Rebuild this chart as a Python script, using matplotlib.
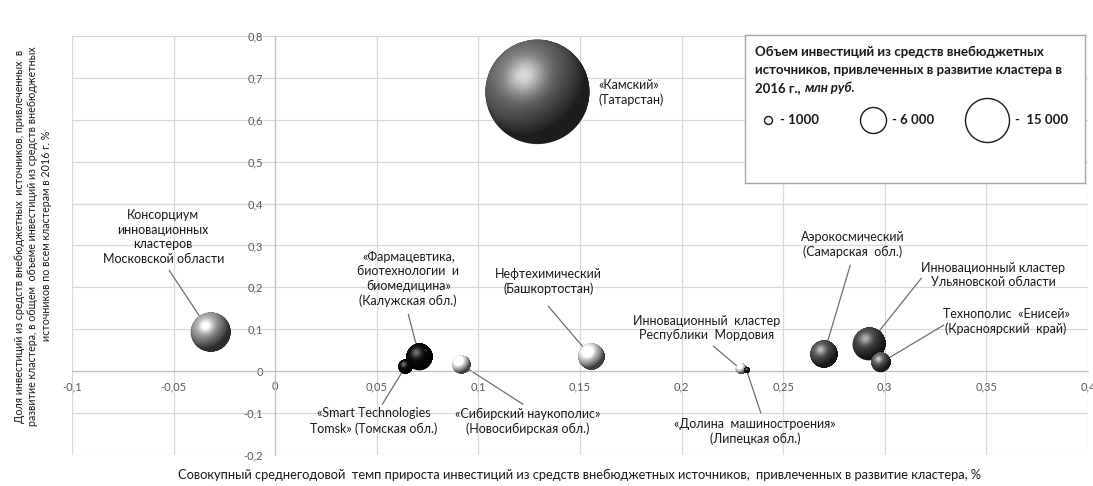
import numpy as np
import matplotlib
matplotlib.use("Agg")
import matplotlib.pyplot as plt
from matplotlib.offsetbox import OffsetImage, AnnotationBbox
from matplotlib.ticker import FuncFormatter

plt.rcParams['font.family'] = ['Lato', 'DejaVu Sans']

# ---------------- data ----------------
clusters = ["«Камский»\n(Татарстан)",
            "Консорциум\nинновационных\nкластеров\nМосковской области",
            "«Фармацевтика,\nбиотехнологии  и\nбиомедицина»\n(Калужская обл.)",
            "«Smart Technologies\nTomsk» (Томская обл.)",
            "«Сибирский наукополис»\n(Новосибирская обл.)",
            "Нефтехимический\n(Башкортостан)",
            "Инновационный  кластер\nРеспублики  Мордовия",
            "«Долина  машиностроения»\n(Липецкая обл.)",
            "Аэрокосмический\n(Самарская  обл.)",
            "Инновационный кластер\nУльяновской области",
            "Технополис  «Енисей»\n(Красноярский  край)"]
growth = [0.129, -0.032, 0.071, 0.064, 0.0915, 0.1555, 0.229, 0.232, 0.270, 0.292, 0.298]
share = [0.666, 0.093, 0.033, 0.010, 0.016, 0.035, 0.005, 0.002, 0.041, 0.064, 0.020]
volume = [76700, 10800, 4800, 1390, 2300, 4800, 710, 180, 5300, 7260, 2560]

legend_values = [1000, 6000, 15000]
legend_labels = ["- 1000", "- 6 000", "-  15 000"]

x_ticks = [-0.1, -0.05, 0, 0.05, 0.1, 0.15, 0.2, 0.25, 0.3, 0.35, 0.4]
y_ticks = [-0.2, -0.1, 0, 0.1, 0.2, 0.3, 0.4, 0.5, 0.6, 0.7, 0.8]

# ---------------- styles / layout ----------------
shades = [0.42, 0.62, 0.04, 0.04, 0.95, 0.88, 0.97, 0.08, 0.32, 0.28, 0.36]
label_pos = [(0.159, 0.666), (-0.0551, 0.320), (0.0655, 0.220), (0.0487, -0.119),
             (0.1245, -0.119), (0.1344, 0.215), (0.2121, 0.103), (0.2362, -0.143),
             (0.2844, 0.303), (0.3533, 0.229), (0.3597, 0.119)]
label_ha = ['left'] + ['center'] * 10
line_start = [None, (-0.0522, 0.241), (0.0655, 0.136), (0.0527, -0.079),
              (0.122, -0.079), (0.1344, 0.155), (0.2156, 0.060), (0.239, -0.100),
              (0.283, 0.253), (0.318, 0.222), (0.329, 0.110)]
legend_marker_px = [4, 13, 22]

DPI = 100
K_PX = 23 / np.sqrt(15000)   # bubble radius in px per sqrt(mln rub)


def sphere(gray, n=240):
    lin = np.linspace(-1, 1, n)
    X, Y = np.meshgrid(lin, -lin)
    R = np.sqrt(X ** 2 + Y ** 2)
    Z = np.sqrt(np.clip(1 - R ** 2, 0, 1))
    L = np.array([-0.45, 0.55, 0.70]); L /= np.linalg.norm(L)
    diff = np.clip(X * L[0] + Y * L[1] + Z * L[2], 0, 1)
    H = L + np.array([0, 0, 1.0]); H /= np.linalg.norm(H)
    spec = np.clip(X * H[0] + Y * H[1] + Z * H[2], 0, 1) ** 14
    v = gray * (0.28 + 0.85 * diff) + 0.40 * spec
    v = np.clip(v, 0, 1)
    alpha = np.clip((1 - R) * n / 2, 0, 1)
    return np.dstack([v, v, v, alpha])


fig = plt.figure(figsize=(10.93, 4.86), dpi=DPI)
ax = fig.add_axes([72 / 1093, 1 - 455 / 486, (1088 - 72) / 1093, (455 - 36) / 486])
ax.set_xlim(-0.1, 0.4)
ax.set_ylim(-0.2, 0.8)
ax.set_xticks(x_ticks)
ax.set_yticks(y_ticks)
fmt = FuncFormatter(lambda v, p: ('%g' % round(v, 2)).replace('.', ','))
ax.xaxis.set_major_formatter(fmt)
ax.yaxis.set_major_formatter(fmt)
ax.grid(True, color='#d9d9d9', linewidth=0.9, zorder=0)
ax.set_axisbelow(True)
for s in ['top', 'right']:
    ax.spines[s].set_visible(False)
ax.spines['left'].set_position(('data', 0))
ax.spines['bottom'].set_position(('data', 0))
ax.spines['left'].set_color('#bfbfbf')
ax.spines['bottom'].set_color('#bfbfbf')
ax.tick_params(axis='both', length=0, labelsize=8, labelcolor='#595959')
ax.tick_params(axis='x', pad=7)
ax.tick_params(axis='y', pad=9)

# leader lines
for i in range(len(clusters)):
    if line_start[i] is not None:
        ax.annotate('', xy=(growth[i], share[i]), xytext=line_start[i],
                    arrowprops=dict(arrowstyle='-', color='#6e6e6e', lw=0.9,
                                    shrinkA=0, shrinkB=0), zorder=2)

# bubbles
radius_px = [K_PX * np.sqrt(v) for v in volume]
ax.scatter(growth, share, s=[(2 * r * 72 / DPI) ** 2 for r in radius_px],
           c=[str(g * 0.6) for g in shades], linewidths=0, zorder=3)
for i in range(len(clusters)):
    img = sphere(shades[i])
    zoom = 2 * radius_px[i] * 72 / DPI / img.shape[0]
    ab = AnnotationBbox(OffsetImage(img, zoom=zoom, interpolation='antialiased'),
                        (growth[i], share[i]), xycoords='data', frameon=False,
                        pad=0, box_alignment=(0.5, 0.5), zorder=4 + i * 0.01)
    ax.add_artist(ab)

# labels
for i in range(len(clusters)):
    ax.text(label_pos[i][0], label_pos[i][1], clusters[i], ha=label_ha[i],
            va='center', multialignment='center' if label_ha[i] == 'center' else 'left',
            fontsize=9, color='#1a1a1a', linespacing=1.25, zorder=5)

# axis titles
fig.text(33 / 1093, 1 - 236 / 486,
         "Доля инвестиций из средств внебюджетных  источников, привлеченных  в\n"
         "развитие кластера, в общем  объеме инвестиций из средств внебюджетных\n"
         "источников по всем кластерам в 2016 г. %",
         rotation=90, ha='center', va='center', multialignment='center',
         fontsize=7.65, color='#1a1a1a', linespacing=1.25)
fig.text(580 / 1093, 1 - 475 / 486,
         "Совокупный среднегодовой  темп прироста инвестиций из средств внебюджетных источников,  "
         "привлеченных в развитие кластера, %",
         ha='center', va='center', fontsize=9.3, color='#1a1a1a')

# legend box
lax = fig.add_axes([745 / 1093, 1 - 183 / 486, 340 / 1093, 148 / 486])
lax.set_xlim(0, 340)
lax.set_ylim(0, 148)
lax.set_xticks([]); lax.set_yticks([])
for s in lax.spines.values():
    s.set_color('#a6a6a6')
    s.set_linewidth(1.0)
lax.set_facecolor('white')
lt = dict(fontsize=9.5, fontweight='bold', color='#1a1a1a', va='center', ha='left')
lax.text(10, 131, "Объем инвестиций из средств внебюджетных", **lt)
lax.text(10, 113, "источников, привлеченных в развитие кластера в", **lt)
t3 = lax.text(10, 95, "2016 г., ", **lt)
lax.annotate("млн руб.", xy=(1, 0), xycoords=t3, va='bottom', ha='left',
             fontsize=9.5, fontweight='bold', fontstyle='italic', color='#1a1a1a')
lx = [23, 128, 242]
ltx = [35, 147, 270]
for j in range(len(legend_values)):
    lax.scatter([lx[j]], [63], s=(2 * legend_marker_px[j] * 72 / DPI) ** 2,
                facecolors='white', edgecolors='#1a1a1a', linewidths=1.0)
    lax.text(ltx[j], 63, legend_labels[j], fontsize=9.5, fontweight='bold',
             color='#1a1a1a', va='center', ha='left')

fig.savefig('out.png', dpi=DPI)
